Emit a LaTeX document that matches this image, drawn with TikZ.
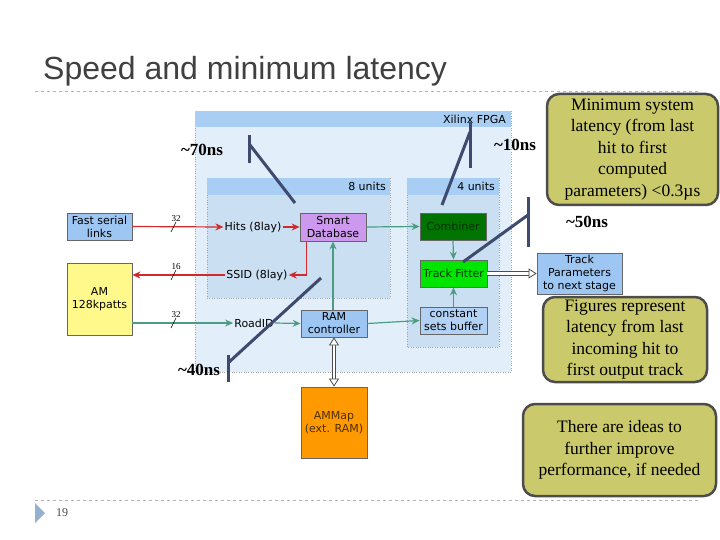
\documentclass[tikz,border=0pt]{standalone}
\usepackage{fontspec}
\setmainfont{Liberation Serif}
\newfontfamily\dvs{DejaVu Sans}
\newfontfamily\lib{Liberation Sans}
\usetikzlibrary{arrows.meta}
\definecolor{fpgabg}{HTML}{E2EFFB}
\definecolor{hdrblue}{HTML}{A8CEF3}
\definecolor{unitbg}{HTML}{CADFF1}
\definecolor{nodeblue}{HTML}{9DC6F3}
\definecolor{lavender}{HTML}{CC99EE}
\definecolor{amber}{HTML}{FF9900}
\definecolor{redbus}{HTML}{D02A2A}
\definecolor{grnbus}{HTML}{4C9C80}
\definecolor{olive}{HTML}{CACA6C}
\definecolor{latline}{HTML}{3E4A6E}
\begin{document}
\begin{tikzpicture}[x=1pt,y=-1pt,
    blk/.style={draw=black!60,line width=.8pt,inner sep=0pt,align=center,
      font=\dvs\fontsize{11}{13}\selectfont},
    lbl/.style={inner sep=1pt,font=\dvs\fontsize{11}{13}\selectfont},
    box/.style={draw=gray!70,dotted},
    note/.style={draw=black!70,line width=2.5pt,rounded corners=12pt,fill=olive,
      align=center,inner sep=0pt,font=\fontsize{17.5}{21.5}\selectfont},
    lat/.style={draw=latline,line width=3pt},
    ns/.style={inner sep=0pt,font=\bfseries\fontsize{17}{20}\selectfont},
    redarr/.style={draw=redbus,line width=1.2pt,-{Stealth[length=8pt,width=7pt]}},
    grnarr/.style={draw=grnbus,line width=1.2pt,-{Stealth[length=8pt,width=7pt]}},
    dbl/.style={draw=black!70,double=white,double distance=2.5pt,line width=.8pt,
      shorten <=#1,shorten >=7pt},
    hollow/.tip={Triangle[open,length=8pt,width=10pt,line width=.8pt,
      color=black!70,fill=white]},
    tipline/.style={draw=white,line width=.1pt}]
  \useasboundingbox (0,0) rectangle (720,540);
  % title and rules
  \node[anchor=base west,inner sep=0pt,text=black!75,font=\lib\fontsize{32}{36}\selectfont]
    (title) at (43,80) {Speed and minimum latency};
  \draw[gray!60,dashed] (35,91) -- (700,91);
  \draw[gray!60,dashed] (35,500) -- (700,500);
  \fill[fill=nodeblue!70!gray] (35,503) -- (45,513) -- (35,523) -- cycle;
  \node[text=black!70,font=\fontsize{12}{14}\selectfont] (page) at (62,513) {19};
  % FPGA and unit boxes
  \filldraw[box,fill=fpgabg] (195,111) rectangle (511,372);
  \fill[hdrblue] (195,111) rectangle (511,127);
  \node[lbl,anchor=east] (fpga) at (507,119) {Xilinx FPGA};
  \filldraw[box,fill=unitbg] (207,178) rectangle (390,298);
  \fill[hdrblue] (207,178) rectangle (390,195);
  \node[lbl,anchor=east] (eight) at (387,186) {8 units};
  \filldraw[box,fill=unitbg] (407,178) rectangle (499,347);
  \fill[hdrblue] (407,178) rectangle (499,195);
  \node[lbl,anchor=east] (four) at (496,186) {4 units};
  % blocks
  \node[blk,fill=nodeblue,minimum width=65pt,minimum height=27pt] (fsl) at (99.5,226.5)
    {Fast serial\\links};
  \node[blk,fill=yellow!45,minimum width=65pt,minimum height=72pt] (am) at (99.5,299)
    {AM\\128kpatts};
  \node[blk,fill=lavender,minimum width=66pt,minimum height=28pt] (sdb) at (333,227)
    {Smart\\Database};
  \node[blk,fill=nodeblue,minimum width=66pt,minimum height=27pt] (ram) at (334,323.5)
    {RAM\\controller};
  \node[blk,fill=green!45!black,text=black!80!green,minimum width=66pt,minimum height=27pt]
    (comb) at (453,226.5) {Combiner};
  \node[blk,fill=green!90!black,text=black!80!green,minimum width=67pt,minimum height=27pt]
    (tf) at (453.5,273.5) {Track Fitter};
  \node[blk,fill=nodeblue!80!white,minimum width=67pt,minimum height=27pt] (cst) at (453.5,320.5)
    {constant\\sets buffer};
  \node[blk,fill=nodeblue,minimum width=85pt,minimum height=41pt] (tp) at (579.5,273.5)
    {Track\\Parameters\\to next stage};
  \node[blk,fill=amber,text=black!70!amber,minimum width=66pt,minimum height=71pt]
    (amm) at (334,422.5) {AMMap\\(ext. RAM)};
  \node[lbl] (hits) at (253,227) {Hits (8lay)};
  \node[lbl] (ssid) at (257,275) {SSID (8lay)};
  \node[lbl] (road) at (254,323) {RoadID};
  % buses
  \draw[redarr] (fsl.east) -- (hits.west);
  \draw[redarr] (hits.east) -- (sdb.west);
  \draw[redarr] ([xshift=7pt]sdb.south west) |- (ssid.east);
  \draw[redarr] (ssid.west) -- (ssid.west -| am.east);
  \draw[grnarr] (road.west -| am.east) -- (road.west);
  \draw[grnarr] (road.east) -- (ram.west);
  \draw[grnarr] (ram.north -| sdb.south) -- (sdb.south);
  \draw[grnarr] (ram.east) -- (cst.west);
  \draw[grnarr] (sdb.east) -- (comb.west);
  \draw[grnarr] (comb.south) -- (tf.north);
  \draw[grnarr] (cst.north) -- (tf.south);
  % double links with open heads
  \draw[dbl=0pt] (tf.east) -- (tp.west);
  \draw[tipline,-hollow] (tf.east) -- (tp.west);
  \draw[dbl=7pt] (ram.south) -- (amm.north);
  \draw[tipline,hollow-hollow] (ram.south) -- (amm.north);
  \foreach \y/\w [count=\i] in {227/32,275/16,323/32}
    \draw[black,line width=.6pt] (171,\y+5) -- (176,\y-5)
      node[inner sep=0pt,anchor=south,font=\fontsize{9}{10}\selectfont] (w\i) {\w};
  % latency markers
  \draw[lat] (249,135) -- (249,163);
  \draw[lat] (250,145) -- (295,203);
  \node[ns] (l70) at (202,150) {\textasciitilde70ns};
  \draw[lat] (470,122) -- (470,168);
  \draw[lat] (470,132) -- (442,205);
  \node[ns] (l10) at (515,145) {\textasciitilde10ns};
  \draw[lat] (528,197) -- (528,247);
  \draw[lat] (528,215) -- (463,262);
  \node[ns] (l50) at (587,222) {\textasciitilde50ns};
  \draw[lat] (228,355) -- (228,382);
  \draw[lat] (228,363) -- (321,278);
  \node[ns] (l40) at (199,370) {\textasciitilde40ns};
  % notes
  \node[note,minimum width=171pt,minimum height=111pt] (minlat) at (632.5,149.5)
    {Minimum system\\latency (from last\\hit to first\\computed\\parameters) <0.3µs};
  \node[note,minimum width=164pt,minimum height=85pt] (figs) at (625,339.5)
    {Figures represent\\latency from last\\incoming hit to\\first output track};
  \node[note,minimum width=193pt,minimum height=92pt] (ideas) at (619.5,450)
    {There are ideas to\\further improve\\performance, if needed};
\end{tikzpicture}
\end{document}
